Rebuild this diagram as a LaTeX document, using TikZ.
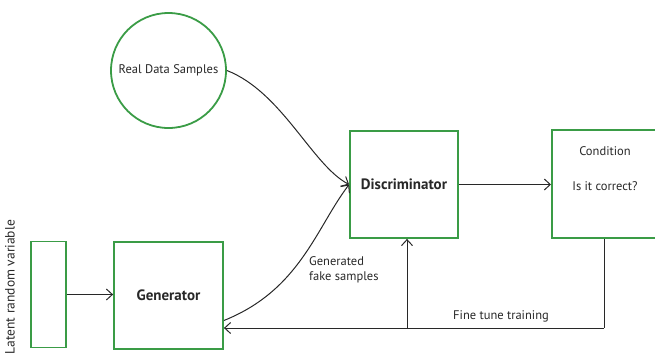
\documentclass[tikz,border=0pt]{standalone}
\usepackage{fontspec}
\setmainfont{PT Sans}
\usetikzlibrary{arrows.meta}
\definecolor{boxgreen}{RGB}{58,156,70}
\definecolor{ink}{RGB}{40,40,40}
\tikzset{
  block/.style={draw=boxgreen, line width=1.8pt, fill=white, inner sep=0pt},
  link/.style={draw=ink, line width=1pt, -{Straight Barb[length=6pt,width=11pt,line width=1pt]}},
  wire/.style={draw=ink, line width=1pt},
  lbl/.style={text=ink, font=\fontsize{12.5}{15}\selectfont, inner sep=0pt},
  title/.style={text=ink, font=\bfseries\fontsize{15}{18}\selectfont}
}
\begin{document}
\begin{tikzpicture}[x=1pt,y=-1pt]
  \useasboundingbox (0,0) rectangle (655,354);
  \begin{scope}
  \clip (0,0) rectangle (655,354);

  % blocks
  \node[block, minimum width=35pt, minimum height=106pt] (latent) at (48.5,294.5) {};
  \node[block, minimum width=109pt, minimum height=107pt, title] (gen) at (168.5,295.5) {Generator};
  \node[block, circle, minimum size=115pt, lbl] (real) at (168.5,70.5) {Real Data Samples};
  \node[block, minimum width=108pt, minimum height=107pt, title] (disc) at (404,184.5) {Discriminator};
  \node[block, minimum width=112pt, minimum height=108pt, anchor=north west] (cond) at (551,129) {};
  \node[lbl] (condA) at (605,151) {Condition};
  \node[lbl] (condB) at (605,186.5) {Is it correct?};

  % side label of the noise input
  \node[lbl, rotate=90, font=\fontsize{13.5}{16}\selectfont] (latentlbl) at (10,287) {Latent random variable};

  % connectors
  \draw[link] (latent.east) -- (latent.east -| gen.west);
  \draw[link] (real.east) .. controls (282,92) and (312,165) .. (disc.west);
  \coordinate (genout) at ([yshift=-25pt]gen.east);
  \draw[link] (genout) .. controls (300,290) and (316,228) .. (disc.west);
  \draw[link] (disc.east) -- (disc.east -| cond.west);

  % feedback loop
  \coordinate (fbR) at (604,328);
  \coordinate (fbM) at (407,328);
  \draw[wire] (cond.south -| fbR) -- (fbR);
  \draw[link] (fbR) -- (fbR -| gen.east);
  \draw[link] (fbM) -- (fbM |- disc.south);

  \node[lbl] (fine) at (501,316) {Fine tune training};
  \node[lbl, align=left, anchor=west] (fake) at (309,269.5) {Generated\\fake samples};
  \end{scope}
\end{tikzpicture}
\end{document}
